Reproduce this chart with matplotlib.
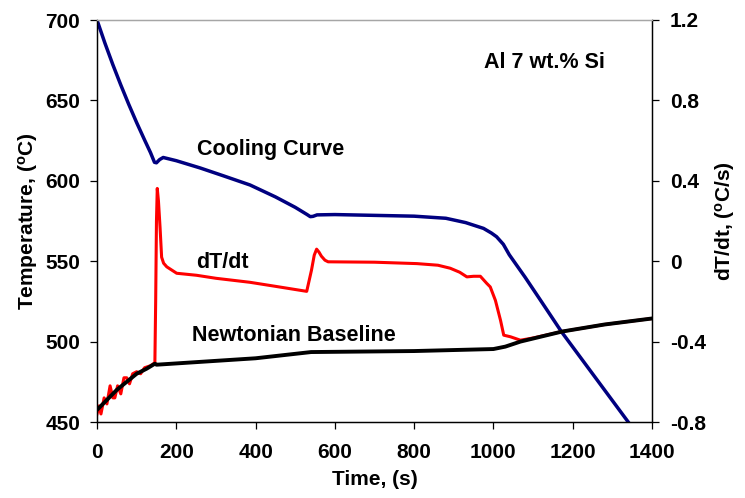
import numpy as np
import matplotlib.pyplot as plt

plt.rcParams['font.family'] = ['Liberation Sans', 'DejaVu Sans']
plt.rcParams['font.weight'] = 'bold'
plt.rcParams['mathtext.default'] = 'regular'

# Cooling curve (left axis, deg C)
t_cool = [0, 10, 20, 40, 60, 80, 100, 120, 135, 145, 150, 158, 167, 200, 260,
          320, 386, 450, 500, 530, 538, 545, 555, 600, 700, 800, 880, 930, 975,
          995, 1008, 1025, 1040, 1080, 1118, 1172, 1250, 1340]
T_cool = [700, 692.8, 685.6, 672.2, 659.6, 647.6, 636.2, 625.4, 617.5, 611.5,
          611.2, 613.2, 614.5, 612.5, 608, 603, 597.4, 590, 583.5, 579, 577.7,
          577.9, 578.8, 579, 578.5, 578, 576.7, 574, 570.4, 567.5, 565.2, 560.5,
          554, 540, 526, 506, 480, 450]

# dT/dt (right axis, deg C/s)
t_rate = [0, 5, 10, 18, 25, 33, 40, 45, 52, 60, 68, 75, 82, 90, 100, 110, 120,
          135, 146, 148, 150, 152, 155, 159, 163, 168, 176, 201, 251, 300, 386,
          450, 529, 541, 548, 554, 560, 566, 575, 583, 700, 807, 860, 891, 915,
          933, 950, 967, 983, 992, 1005, 1018, 1026, 1043, 1068, 1100, 1173,
          1280, 1400]
rate = [-0.76, -0.72, -0.76, -0.68, -0.71, -0.62, -0.68, -0.68, -0.62, -0.66,
        -0.58, -0.58, -0.61, -0.56, -0.55, -0.56, -0.53, -0.52, -0.505, -0.2,
        0.2, 0.362, 0.3, 0.17, 0.02, -0.01, -0.028, -0.06, -0.07, -0.085,
        -0.105, -0.125, -0.15, -0.045, 0.03, 0.06, 0.045, 0.025, 0.005, -0.003,
        -0.005, -0.012, -0.02, -0.035, -0.055, -0.078, -0.075, -0.075, -0.11,
        -0.128, -0.195, -0.295, -0.368, -0.376, -0.393, -0.382, -0.35, -0.315,
        -0.285]

# Newtonian baseline (right axis)
t_base = [0, 25, 50, 75, 100, 125, 146, 150, 400, 540, 800, 1000, 1030, 1068,
          1173, 1280, 1400]
base = [-0.74, -0.69, -0.64, -0.60, -0.56, -0.535, -0.51, -0.515, -0.483,
        -0.452, -0.447, -0.437, -0.425, -0.40, -0.35, -0.315, -0.285]

fig = plt.figure(figsize=(7.45, 4.98), dpi=100)
ax = fig.add_axes([97 / 745, 1 - 422 / 498, (652 - 97) / 745, (422 - 20) / 498])
ax2 = ax.twinx()

ax.plot(t_cool, T_cool, color='#000080', lw=2.5)
ax2.plot(t_rate, rate, color='#ff0000', lw=2.2)
ax2.plot(t_base, base, color='black', lw=2.8)

ax.set_xlim(0, 1400)
ax.set_ylim(450, 700)
ax2.set_ylim(-0.8, 1.2)
ax.set_xticks(range(0, 1401, 200))
ax.set_yticks(range(450, 701, 50))
ax2.set_yticks([-0.8, -0.4, 0, 0.4, 0.8, 1.2])
ax2.set_yticklabels(['-0.8', '-0.4', '0', '0.4', '0.8', '1.2'])

for a in (ax, ax2):
    a.spines['top'].set_color('#a6a6a6')
    a.tick_params(direction='out', length=5, width=0.9, labelsize=15)
    for s in a.spines.values():
        s.set_linewidth(0.9)
ax.tick_params(axis='y', pad=7)
ax.tick_params(axis='x', pad=10)
ax2.tick_params(axis='y', pad=8)

ax.set_xlabel('Time, (s)', fontsize=15, fontweight='bold', labelpad=6)
ax.set_ylabel(r'Temperature, ($^{o}$C)', fontsize=15, fontweight='bold', labelpad=4)
ax2.set_ylabel(r'dT/dt, ($^{o}$C/s)', fontsize=15, fontweight='bold', labelpad=5)

ax.text(251, 616, 'Cooling Curve', fontsize=15.5, fontweight='bold', va='baseline')
ax.text(251, 545.6, 'dT/dt', fontsize=15.5, fontweight='bold', va='baseline')
ax.text(239, 500.6, 'Newtonian Baseline', fontsize=15.5, fontweight='bold', va='baseline')
ax.text(1281, 670, 'Al 7 wt.% Si', fontsize=15.5, fontweight='bold', va='baseline', ha='right')

fig.savefig('out.png', dpi=100)
